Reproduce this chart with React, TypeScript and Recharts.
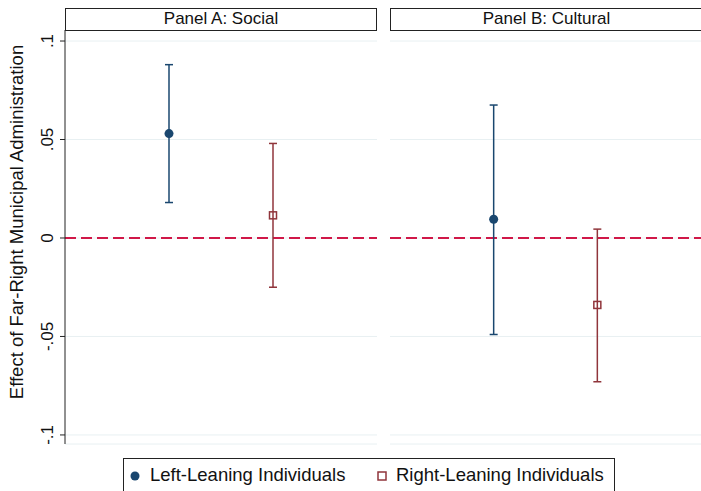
import React from 'react';
import { ScatterChart, Scatter, XAxis, YAxis, CartesianGrid, ErrorBar, ReferenceLine } from 'recharts';

// point estimates and 95% CIs
const groups = ['Left-Leaning Individuals', 'Right-Leaning Individuals'];
const groupX = [1, 2];
const socialEst = [0.053, 0.0115];
const socialLow = [0.018, -0.025];
const socialHigh = [0.088, 0.048];
const culturalEst = [0.0095, -0.034];
const culturalLow = [-0.049, -0.073];
const culturalHigh = [0.0675, 0.0045];
const yTicks = [-0.1, -0.05, 0, 0.05, 0.1];
const yTickLabels = ['-.1', '-.05', '0', '.05', '.1'];

const NAVY = '#1a476f';
const MAROON = '#90353b';
const FONT = 'Arial, "Liberation Sans", sans-serif';

const makeRows = (est: number[], low: number[], high: number[], i: number) => [
  { x: groupX[i], y: est[i], err: [est[i] - low[i], high[i] - est[i]] },
];

const Dot = (props: any) => <circle cx={props.cx} cy={props.cy} r={4.5} fill={NAVY} />;
const Box = (props: any) => (
  <rect x={props.cx - 3.5} y={props.cy - 3.5} width={7} height={7} fill="none" stroke={MAROON} strokeWidth={1.5} />
);

const YTick = (props: any) => {
  const { x, y, payload } = props;
  const idx = yTicks.indexOf(payload.value);
  return (
    <text x={x - 5} y={y} transform={`rotate(-90 ${x - 5} ${y})`} textAnchor="middle" fontSize={17} fontFamily={FONT} fill="#111">
      {idx >= 0 ? yTickLabels[idx] : payload.value}
    </text>
  );
};

const Panel = ({ est, low, high, showAxis, width }: any) => (
  <ScatterChart width={width} height={450} margin={{ top: 30, right: 0, bottom: 6, left: showAxis ? 0 : 13 }}>
    <CartesianGrid vertical={false} stroke="#e8f0f2" />
    <XAxis type="number" dataKey="x" domain={[0, 3]} hide />
    <YAxis
      type="number"
      dataKey="y"
      domain={[-0.1046, 0.1056]}
      ticks={yTicks}
      allowDataOverflow
      hide={!showAxis}
      width={65}
      tick={<YTick />}
      tickLine={{ stroke: '#222' }}
      tickSize={5}
      axisLine={{ stroke: '#222' }}
    />
    <ReferenceLine y={0} stroke="#d01848" strokeWidth={2} strokeDasharray="11 5" />
    <Scatter data={makeRows(est, low, high, 0)} shape={<Dot />} isAnimationActive={false}>
      <ErrorBar dataKey="err" direction="y" width={4} stroke={NAVY} strokeWidth={1.5} />
    </Scatter>
    <Scatter data={makeRows(est, low, high, 1)} shape={<Box />} isAnimationActive={false}>
      <ErrorBar dataKey="err" direction="y" width={4} stroke={MAROON} strokeWidth={1.5} />
    </Scatter>
  </ScatterChart>
);

const header: React.CSSProperties = {
  position: 'absolute',
  top: 8,
  height: 23,
  border: '1px solid #222',
  boxSizing: 'border-box',
  fontFamily: FONT,
  fontSize: 17,
  lineHeight: '20px',
  textAlign: 'center',
  color: '#111',
  background: '#fff',
};

export default function App() {
  return (
    <div style={{ position: 'absolute', left: 0, top: 0, width: 701, height: 491, background: '#fff', overflow: 'hidden' }}>
      <div style={{ position: 'absolute', left: 0, top: 0 }}>
        <Panel est={socialEst} low={socialLow} high={socialHigh} showAxis width={377} />
      </div>
      <div style={{ position: 'absolute', left: 377, top: 0 }}>
        <Panel est={culturalEst} low={culturalLow} high={culturalHigh} showAxis={false} width={324} />
      </div>
      <div style={{ ...header, left: 65, width: 312 }}>Panel A: Social</div>
      <div style={{ ...header, left: 390, width: 313 }}>Panel B: Cultural</div>
      <div
        style={{
          position: 'absolute',
          left: 17,
          top: 222,
          transform: 'translate(-50%, -50%) rotate(-90deg)',
          whiteSpace: 'nowrap',
          fontFamily: FONT,
          fontSize: 18.5,
          color: '#111',
        }}
      >
        Effect of Far-Right Municipal Administration
      </div>
      <div
        style={{
          position: 'absolute',
          left: 123,
          top: 458,
          width: 492,
          height: 40,
          border: '1px solid #222',
          boxSizing: 'border-box',
          fontFamily: FONT,
          fontSize: 18.5,
          color: '#111',
        }}
      >
        <svg width={14} height={14} style={{ position: 'absolute', left: 4, top: 10 }}>
          <circle cx={7} cy={7} r={4.5} fill={NAVY} />
        </svg>
        <span style={{ position: 'absolute', left: 26, top: 5 }}>{groups[0]}</span>
        <svg width={14} height={14} style={{ position: 'absolute', left: 251, top: 10 }}>
          <rect x={3} y={3} width={8} height={8} fill="none" stroke={MAROON} strokeWidth={1.5} />
        </svg>
        <span style={{ position: 'absolute', left: 272, top: 5 }}>{groups[1]}</span>
      </div>
    </div>
  );
}
